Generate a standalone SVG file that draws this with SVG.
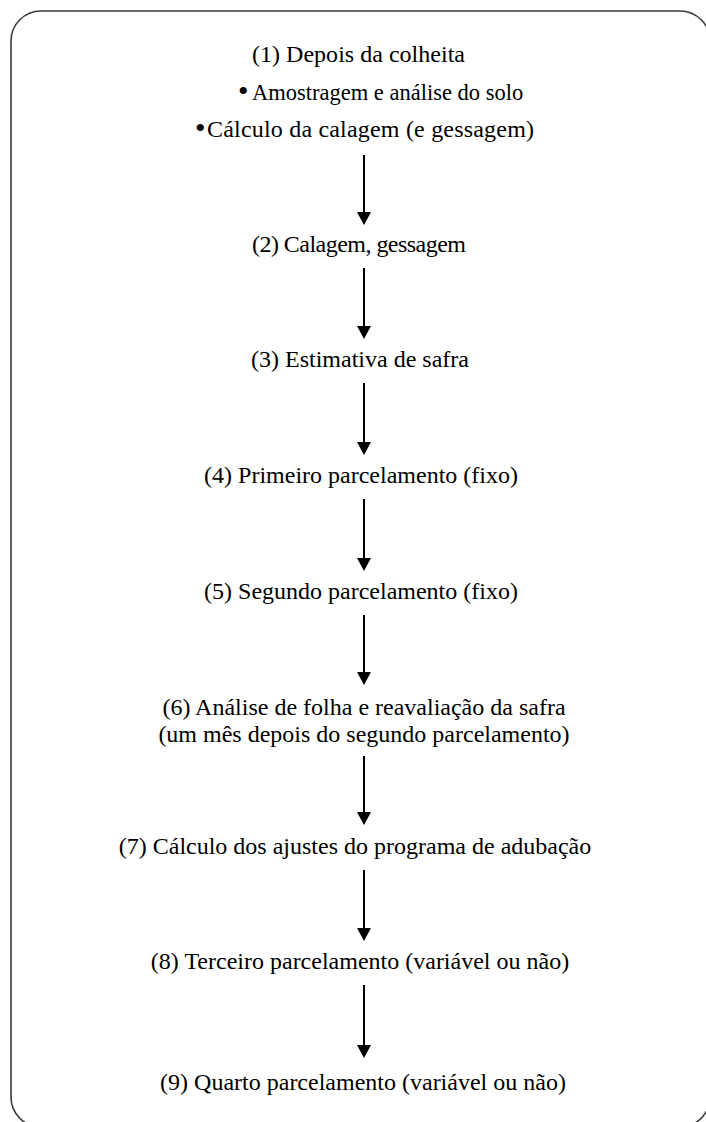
<svg xmlns="http://www.w3.org/2000/svg" width="706" height="1122" viewBox="0 0 706 1122">
<style>
.t{font-family:"Liberation Serif","Times New Roman","DejaVu Serif",serif;font-size:24px;fill:#000;text-anchor:middle}
.s{text-anchor:start}
.b{font-size:30px}
.c{stroke:#000;stroke-width:2;fill:none}
.h{fill:#000;stroke:none}
</style>
<rect x="11" y="11" width="699" height="1116" rx="30" ry="30" fill="#fff" stroke="#3a3a3a" stroke-width="1.6"/>
<g id="node1">
<text class="t s" x="252" y="62" textLength="213">(1) Depois da colheita</text>
<text class="t s" y="100"><tspan class="b" x="238" y="101">•</tspan><tspan x="252" y="100" style="font-size:22.5px">Amostragem e análise do solo</tspan></text>
<text class="t s" y="137"><tspan class="b" x="195" y="138">•</tspan><tspan x="207" y="137" textLength="327">Cálculo da calagem (e gessagem)</tspan></text>
</g>
<g id="node2"><text class="t s" x="252" y="252" textLength="214">(2) Calagem, gessagem</text></g>
<g id="node3"><text class="t" x="360" y="367">(3) Estimativa de safra</text></g>
<g id="node4"><text class="t" x="361" y="483">(4) Primeiro parcelamento (fixo)</text></g>
<g id="node5"><text class="t" x="361" y="599">(5) Segundo parcelamento (fixo)</text></g>
<g id="node6">
<text class="t" x="364" y="715">(6) Análise de folha e reavaliação da safra</text>
<text class="t" x="364" y="742">(um mês depois do segundo parcelamento)</text>
</g>
<g id="node7"><text class="t" x="355" y="854">(7) Cálculo dos ajustes do programa de adubação</text></g>
<g id="node8"><text class="t" x="360" y="969">(8) Terceiro parcelamento (variável ou não)</text></g>
<g id="node9"><text class="t" x="363" y="1090">(9) Quarto parcelamento (variável ou não)</text></g>
<g id="connectors">
<line class="c" x1="364" y1="155" x2="364" y2="213"/><polygon class="h" points="357,212 371,212 364,225"/>
<line class="c" x1="364" y1="268" x2="364" y2="327"/><polygon class="h" points="357,326 371,326 364,339"/>
<line class="c" x1="364" y1="383" x2="364" y2="443"/><polygon class="h" points="357,442 371,442 364,455"/>
<line class="c" x1="364" y1="499" x2="364" y2="559"/><polygon class="h" points="357,558 371,558 364,571"/>
<line class="c" x1="364" y1="615" x2="364" y2="673"/><polygon class="h" points="357,672 371,672 364,685"/>
<line class="c" x1="364" y1="756" x2="364" y2="813"/><polygon class="h" points="357,812 371,812 364,825"/>
<line class="c" x1="364" y1="870" x2="364" y2="929"/><polygon class="h" points="357,928 371,928 364,941"/>
<line class="c" x1="364" y1="985" x2="364" y2="1046"/><polygon class="h" points="357,1045 371,1045 364,1058"/>
</g>
</svg>
